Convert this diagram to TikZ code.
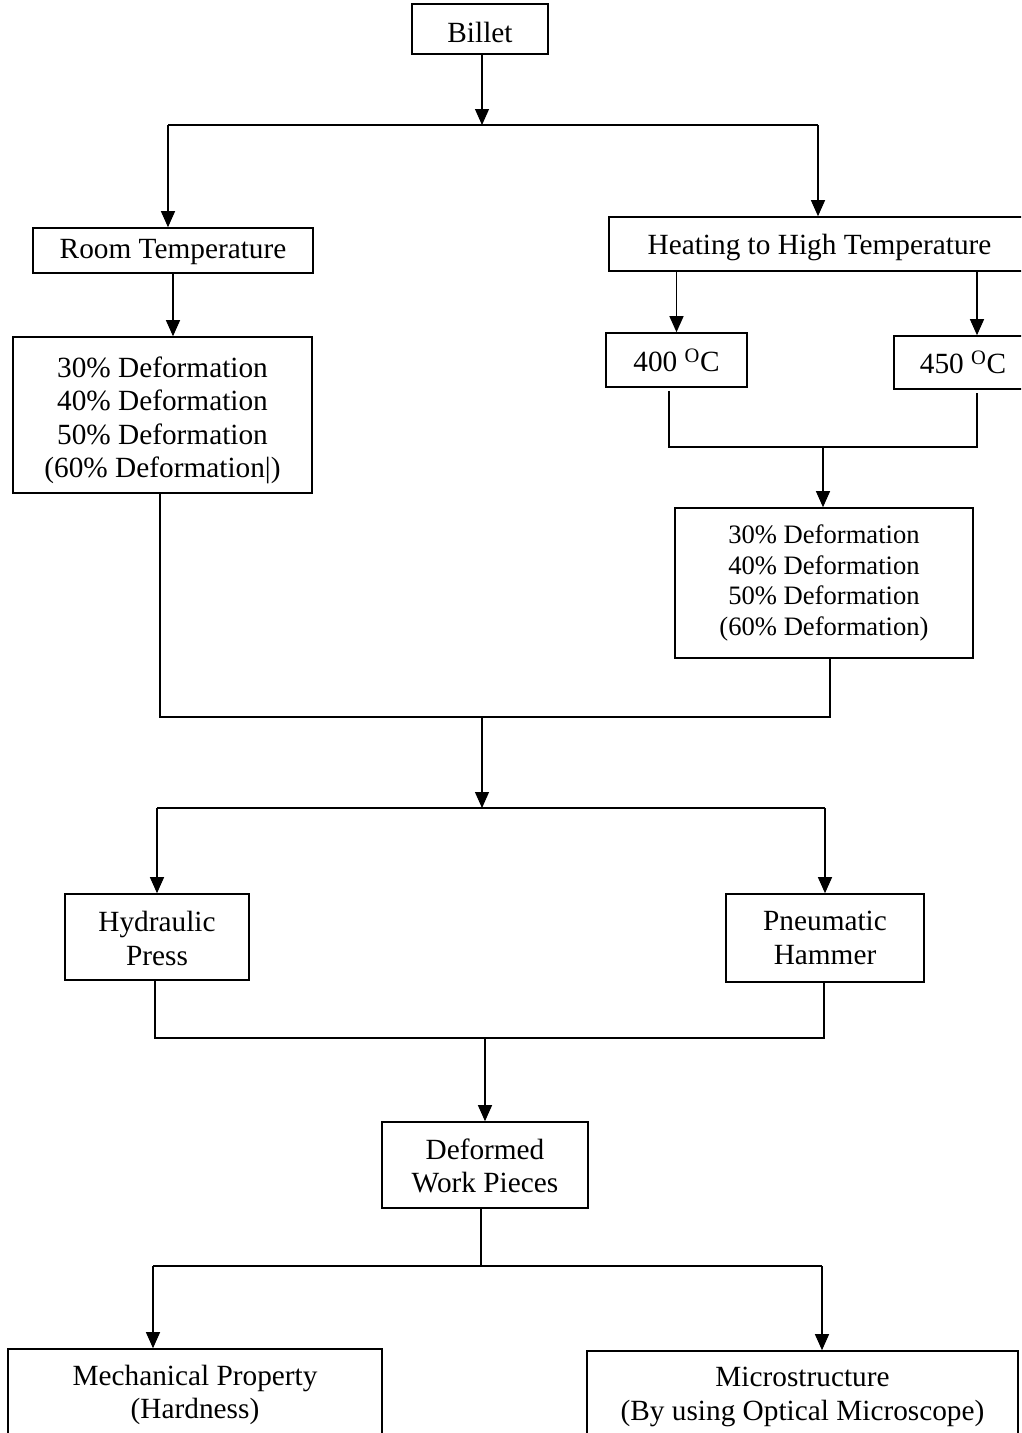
\documentclass[tikz,border=0pt]{standalone}
\usepackage{fontspec}
\setmainfont{Liberation Serif}
\usetikzlibrary{arrows.meta}
\newcommand\pushdown[1]{\rule{0pt}{#1pt}}
\begin{document}
\begin{tikzpicture}[x=1pt,y=-1pt,
  box/.style={draw, line width=1.6pt, align=center, inner sep=0pt,
    font=\fontsize{29.3}{33.4}\selectfont},
  smallbox/.style={box, font=\fontsize{26.6}{30.6}\selectfont},
  conn/.style={line width=1.1pt},
  arr/.style={conn, -{Triangle[width=14pt,length=16pt]}}]
\useasboundingbox (0,0) rectangle (1021,1433);
\clip (0,0) rectangle (1021,1433);
% boxes
\node[box, minimum width=136, minimum height=50] (billet) at (480,29) {\pushdown{28}Billet};
\node[box, minimum width=280, minimum height=45] (room) at (173,250.5) {\pushdown{22}Room Temperature};
\node[box, minimum width=421, minimum height=54] (heat) at (819.5,244) {\pushdown{26.8}Heating to High Temperature};
\node[box, minimum width=299, minimum height=156] (defL) at (162.5,415) {\pushdown{31}30\% Deformation\\40\% Deformation\\50\% Deformation\\(60\% Deformation|)};
\node[box, minimum width=141, minimum height=54] (t400) at (676.5,360) {400 \textsuperscript{O}C};
\node[box, minimum width=138, minimum height=53] (t450) at (963,362.5) {450 \textsuperscript{O}C};
\node[smallbox, minimum width=298, minimum height=150] (defR) at (824,583) {30\% Deformation\\40\% Deformation\\50\% Deformation\\(60\% Deformation)};
\node[box, minimum width=184, minimum height=86] (hyd) at (157,937) {\pushdown{23}Hydraulic\\Press};
\node[box, minimum width=198, minimum height=88] (pneu) at (825,938) {Pneumatic\\Hammer};
\node[box, minimum width=206, minimum height=86] (dwp) at (485,1165) {\pushdown{23}Deformed\\Work Pieces};
\node[box, minimum width=374, minimum height=92] (mech) at (195,1395) {Mechanical Property\\(Hardness)};
\node[box, minimum width=431, minimum height=92] (micro) at (802.5,1397) {Microstructure\\(By using Optical Microscope)};
% junction coordinates
\coordinate (hub1) at (482,125);
\coordinate (a1L) at (168,125);
\coordinate (a1R) at (818,125);
\coordinate (x400) at (669,447);
\coordinate (x450) at (977,447);
\coordinate (hub2) at (823,447);
\coordinate (xL) at (160,717);
\coordinate (xR) at (830,717);
\coordinate (hub3) at (482,717);
\coordinate (hub3b) at (482,808);
\coordinate (a4L) at (157,808);
\coordinate (a4R) at (825,808);
\coordinate (yL) at (155,1038);
\coordinate (yR) at (824,1038);
\coordinate (hub5) at (485,1038);
\coordinate (hub6) at (481,1266);
\coordinate (a6L) at (153,1266);
\coordinate (a6R) at (822,1266);
% connectors
\draw[arr] (billet.south -| hub1) -- (hub1);
\draw[conn] (a1L) -- (a1R);
\draw[arr] (a1L) -- (a1L |- room.north);
\draw[arr] (a1R) -- (a1R |- heat.north);
\draw[arr] (room.south) -- (room.south |- defL.north);
\draw[arr] (t400.north |- heat.south) -- (t400.north);
\draw[arr] (x450 |- heat.south) -- (x450 |- t450.north);
\draw[conn] ([yshift=-3pt]x400 |- t400.south) -- (x400) -- (x450) -- ([yshift=-3pt]x450 |- t450.south);
\draw[arr] (hub2) -- (hub2 |- defR.north);
\draw[conn] (xL |- defL.south) -- (xL) -- (xR) -- (xR |- defR.south);
\draw[arr] (hub3) -- (hub3b);
\draw[conn] (a4L) -- (a4R);
\draw[arr] (a4L) -- (a4L |- hyd.north);
\draw[arr] (a4R) -- (a4R |- pneu.north);
\draw[conn] (yL |- hyd.south) -- (yL) -- (yR) -- (yR |- pneu.south);
\draw[arr] (hub5) -- (hub5 |- dwp.north);
\draw[conn] (hub6 |- dwp.south) -- (hub6);
\draw[conn] (a6L) -- (a6R);
\draw[arr] (a6L) -- (a6L |- mech.north);
\draw[arr] (a6R) -- (a6R |- micro.north);
\end{tikzpicture}
\end{document}
